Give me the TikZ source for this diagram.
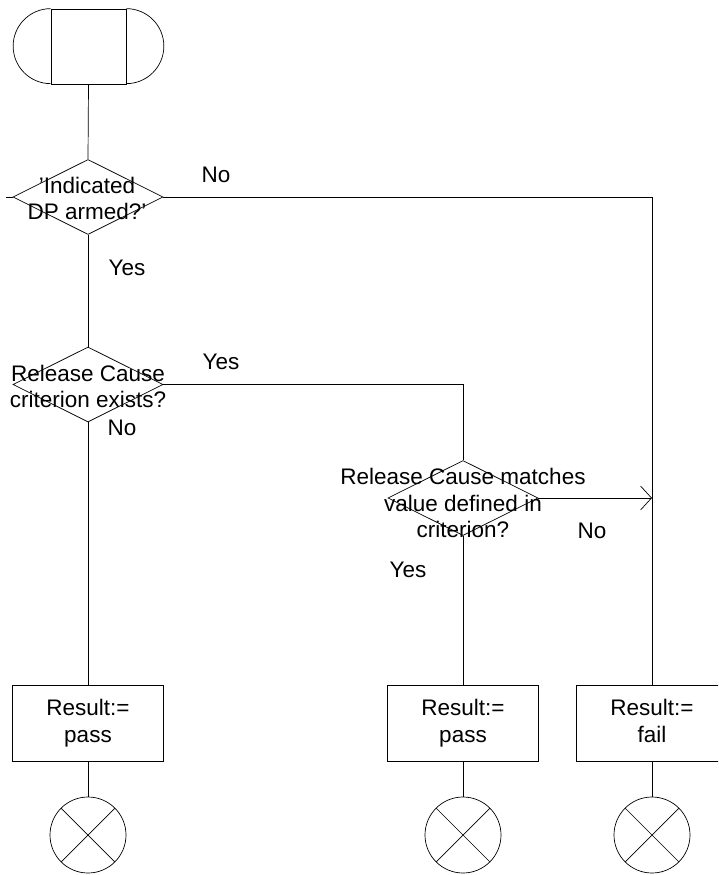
\documentclass[tikz,border=0pt]{standalone}
\usepackage{fontspec}
\setmainfont{Liberation Sans}
\usetikzlibrary{shapes.geometric,arrows.meta}
\begin{document}
\begin{tikzpicture}[x=1pt,y=-1pt,
  every node/.style={font=\fontsize{22.5}{26.5}\selectfont},
  ln/.style={draw=black,line width=0.7pt},
  dec/.style={shape=diamond,ln,minimum width=150pt,minimum height=75pt,inner sep=0pt},
  txt/.style={align=center,inner sep=0pt},
  lab/.style={inner sep=0pt},
  res/.style={shape=rectangle,ln,minimum width=151pt,minimum height=76pt,inner sep=0pt,align=center},
  term/.style={shape=circle,ln,minimum size=76pt,inner sep=0pt},
  flow/.style={ln},
  arr/.style={ln,-{Straight Barb[length=11pt,width=24pt,line width=0.7pt]}}]
\useasboundingbox (0,0) rectangle (718,875);
\clip (0,0) rectangle (718,875);
% start symbol
\node[shape=rectangle,ln,minimum width=75pt,minimum height=75pt,inner sep=0pt] (start) at (88.5,46.5) {};
\draw[ln] (start.north west) arc[start angle=270,end angle=90,radius=37.5];
\draw[ln] (start.north east) arc[start angle=-90,end angle=90,radius=37.5];
% decisions
\node[dec] (d1) at (88,197) {};
\node[txt] (d1t) at (87,198.5) {'Indicated\\DP armed?'};
\node[dec] (d2) at (88,384.5) {};
\node[txt] (d2t) at (88,386.5) {Release Cause\\criterion exists?};
\node[dec] (d3) at (463,498) {};
\node[txt,text depth=0pt] (d3t) at (463,503) {Release Cause matches\\value defined in\\criterion?};
% result boxes
\node[res] (b1) at (88,723) {Result:=\\pass};
\node[res] (b2) at (463,723) {Result:=\\pass};
\node[res] (b3) at (652,723) {Result:=\\fail\vphantom{p}};
% terminators
\node[term] (t1) at (88,835) {};
\node[term] (t2) at (463,835) {};
\node[term] (t3) at (652,835) {};
\foreach \t in {t1,t2,t3}{
  \draw[ln] (\t.north west) -- (\t.south east);
  \draw[ln] (\t.north east) -- (\t.south west);
}
% coordinates
\coordinate (stub) at (6,197);
\coordinate (join) at (652,498);
% connectors
\draw[flow] (start.south) -- (d1.north);
\draw[flow] (stub) -- (d1.west);
\draw[flow] (d1.south) -- (d2.north);
\draw[flow] (d2.south) -- (b1.north);
\draw[flow] (b1.south) -- (t1.north);
\draw[flow] (d1.east) -| (b3.north);
\draw[flow] (d2.east) -| (d3.north);
\draw[flow] (d3.south) -- (b2.north);
\draw[flow] (b2.south) -- (t2.north);
\draw[flow] (b3.south) -- (t3.north);
\draw[arr] (d3.east) -- (join);
% labels
\node[lab] (l1) at (216,174.5) {No};
\node[lab] (l2) at (127,268) {Yes};
\node[lab] (l3) at (221,362) {Yes};
\node[lab] (l4) at (122,428) {No};
\node[lab] (l5) at (592,531) {No};
\node[lab] (l6) at (408,570) {Yes};
\end{tikzpicture}
\end{document}
